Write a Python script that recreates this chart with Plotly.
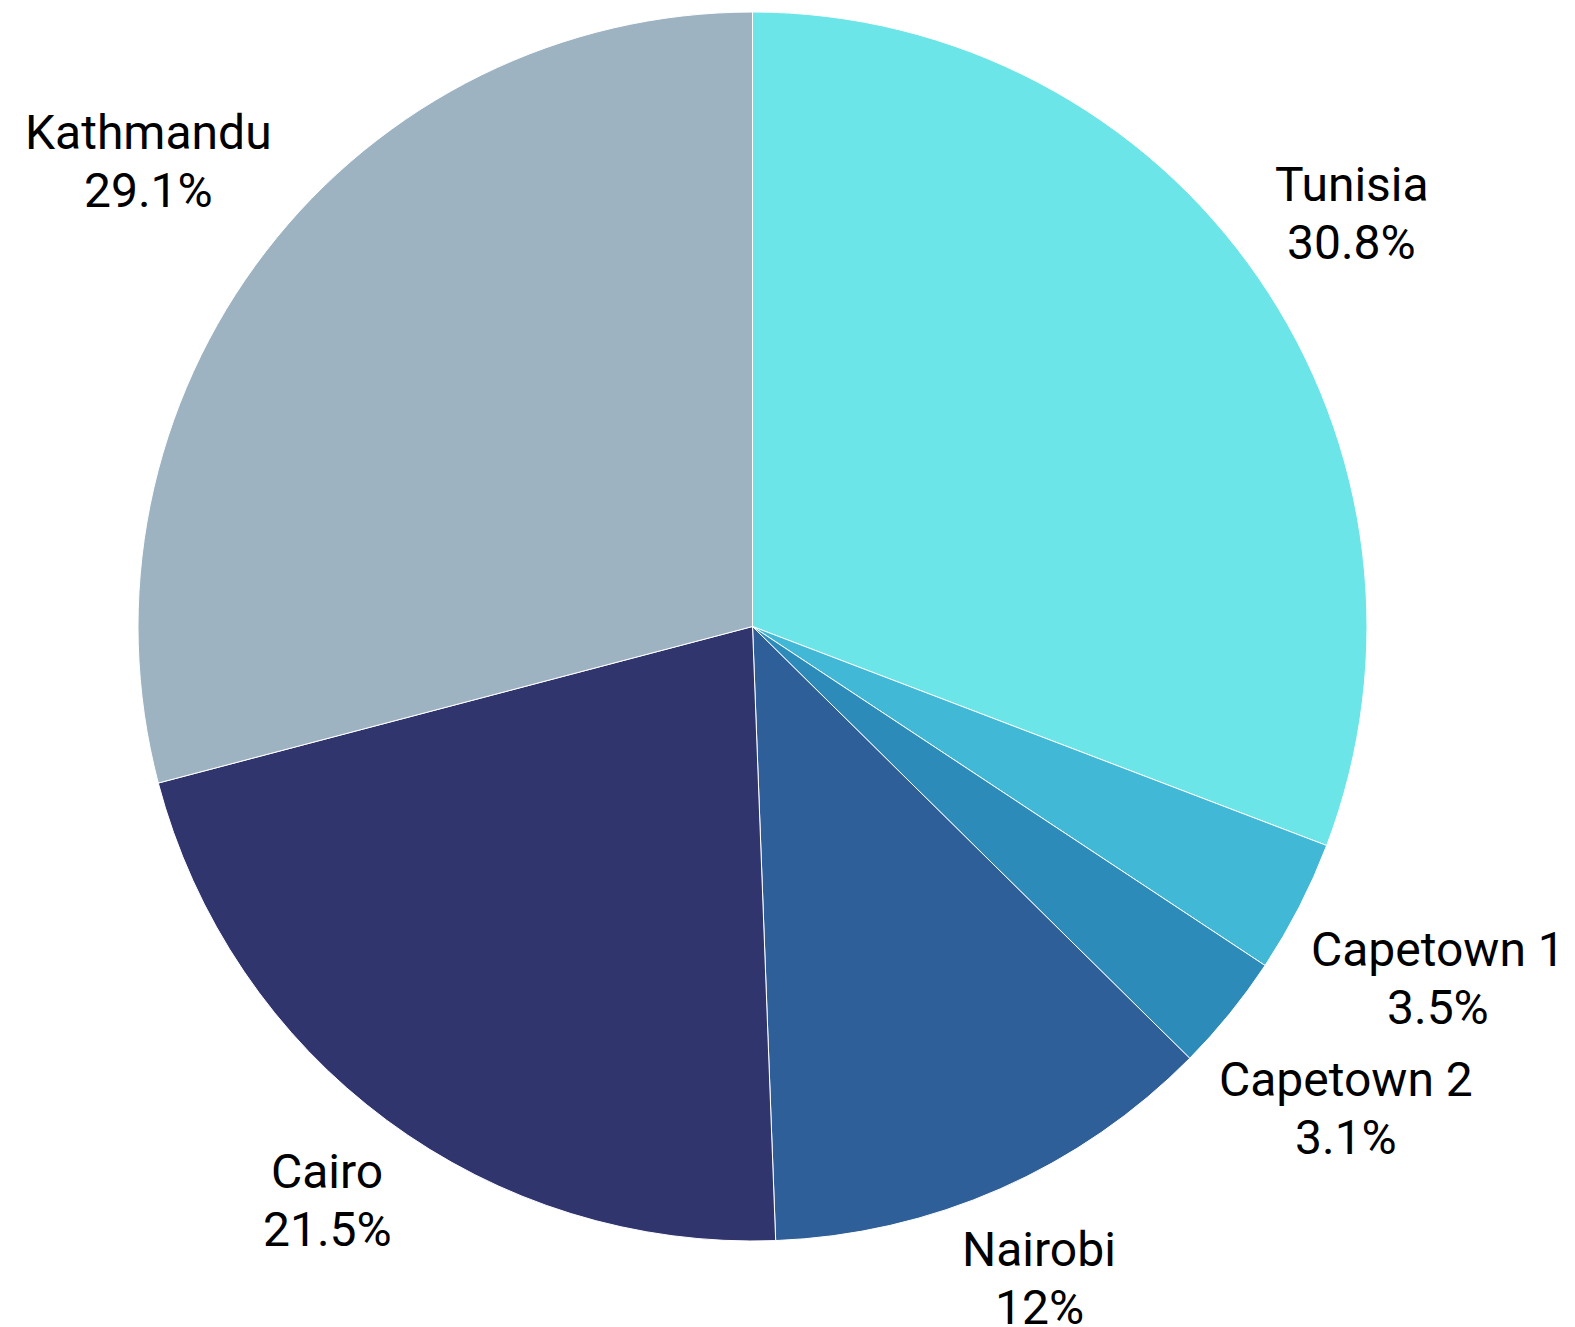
import math
import plotly.graph_objects as go

labels = ["Tunisia", "Capetown 1", "Capetown 2", "Nairobi", "Cairo", "Kathmandu"]
values = [30.8, 3.5, 3.1, 12.0, 21.5, 29.1]
colors = ["#6ce5e8", "#41b8d5", "#2d8bba", "#2f5f98", "#31356e", "#9eb3c2"]

FIG_W, FIG_H = 1575, 1327
M_L, M_R, M_T, M_B = 0, 70, 12, 86
FONT_SIZE = 48
LINE_H = 1.2 * FONT_SIZE
LABEL_PAD = 22

# approximate Roboto advance widths (em) used to size label boxes
ROBOTO_W = {
    " ": 0.248, "%": 0.733, ".": 0.263, "C": 0.636, "K": 0.618, "N": 0.697,
    "T": 0.597, "a": 0.531, "b": 0.547, "d": 0.550, "e": 0.517, "h": 0.539,
    "i": 0.237, "m": 0.856, "n": 0.539, "o": 0.557, "p": 0.547, "r": 0.331,
    "s": 0.503, "t": 0.319, "u": 0.538, "w": 0.738,
}


def text_width(s):
    return sum(ROBOTO_W.get(c, 0.5615) for c in s) * FONT_SIZE


fig = go.Figure(go.Pie(
    labels=labels,
    values=values,
    sort=False,
    direction="clockwise",
    textinfo="none",
    marker=dict(colors=colors, line=dict(color="white", width=1)),
    showlegend=False,
    domain=dict(x=[0, 1], y=[0, 1]),
))

# label placement: each two-line label block sits just outside the rim,
# centred on the radial line through the middle of its slice
W = FIG_W - M_L - M_R
H = FIG_H - M_T - M_B
R = min(W, H) / 2
cx = M_L + W / 2
cy = M_T + H / 2
total = sum(values)
cum = 0.0
annotations = []
for lab, v in zip(labels, values):
    theta = 2 * math.pi * (cum + v / 2) / total
    cum += v
    sx, sy = math.sin(theta), -math.cos(theta)
    pct = f"{v / total * 100:.3g}%"
    w = max(text_width(lab), text_width(pct))
    h = 2 * LINE_H - 16
    D = R + LABEL_PAD + abs(sx) * w / 2 + abs(sy) * h / 2
    bx = cx + sx * D
    by = cy + sy * D
    for txt, py in ((lab, by - LINE_H / 2), (pct, by + LINE_H / 2)):
        annotations.append(dict(
            text=txt, showarrow=False, xref="paper", yref="paper",
            x=(bx - M_L) / W, y=1 - (py - M_T) / H,
            xanchor="center", yanchor="middle",
            font=dict(family="Roboto", size=FONT_SIZE, color="black"),
        ))

fig.update_layout(
    width=FIG_W, height=FIG_H,
    margin=dict(l=M_L, r=M_R, t=M_T, b=M_B),
    paper_bgcolor="white",
    font=dict(family="Roboto", size=FONT_SIZE, color="black"),
    annotations=annotations,
)
fig.write_html("out.html")
